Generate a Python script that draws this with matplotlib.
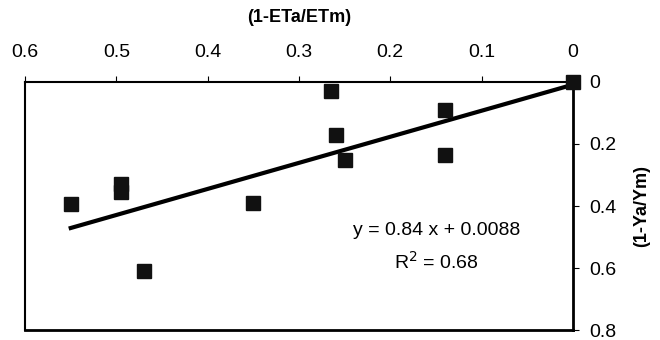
import numpy as np
import matplotlib
matplotlib.use('Agg')
import matplotlib.pyplot as plt

plt.rcParams['font.family'] = ['Liberation Sans', 'DejaVu Sans']

# relative ET deficit vs relative yield decrease
eta_def = [0.0, 0.14, 0.14, 0.265, 0.26, 0.25, 0.495, 0.495, 0.55, 0.35, 0.47]
ya_def = [0.0, 0.09, 0.235, 0.03, 0.17, 0.25, 0.33, 0.355, 0.395, 0.39, 0.61]

slope = 0.84
intercept = 0.0088
r2 = 0.68

xticks = [0.6, 0.5, 0.4, 0.3, 0.2, 0.1, 0]
yticks = [0, 0.2, 0.4, 0.6, 0.8]

fig = plt.figure(figsize=(6.6, 3.4), dpi=100)
ax = fig.add_axes([0.038, 0.029, 0.83, 0.73])

ax.plot(eta_def, ya_def, 's', color='#111111', markersize=9.5, clip_on=False, zorder=3)

# trend line over the data range
xl = np.array([0, max(eta_def)])
ax.plot(xl, slope * xl + intercept, color='black', linewidth=3, clip_on=False)

ax.set_xlim(0.6, 0)
ax.set_ylim(0.8, 0)
ax.set_xticks(xticks)
ax.set_xticklabels(['0.6', '0.5', '0.4', '0.3', '0.2', '0.1', '0'])
ax.set_yticks(yticks)
ax.set_yticklabels(['0', '0.2', '0.4', '0.6', '0.8'])

ax.xaxis.tick_top()
ax.xaxis.set_label_position('top')
ax.yaxis.tick_right()
ax.yaxis.set_label_position('right')
ax.tick_params(axis='both', labelsize=14, length=4, width=0.8)
ax.tick_params(axis='x', pad=11)
ax.tick_params(axis='y', pad=8)

ax.set_xlabel('(1-ETa/ETm)', fontsize=13, fontweight='bold', labelpad=16)
ax.set_ylabel('(1-Ya/Ym)', fontsize=13, fontweight='bold', labelpad=12)

for side in ['left', 'top']:
    ax.spines[side].set_linewidth(1.5)
for side in ['right', 'bottom']:
    ax.spines[side].set_linewidth(2)

ax.text(0.149, 0.48, 'y = 0.84 x + 0.0088', fontsize=14, ha='center', va='center')
ax.text(0.149, 0.58, 'R$^2$ = 0.68', fontsize=14, ha='center', va='center')

fig.savefig('out.png', dpi=100)
